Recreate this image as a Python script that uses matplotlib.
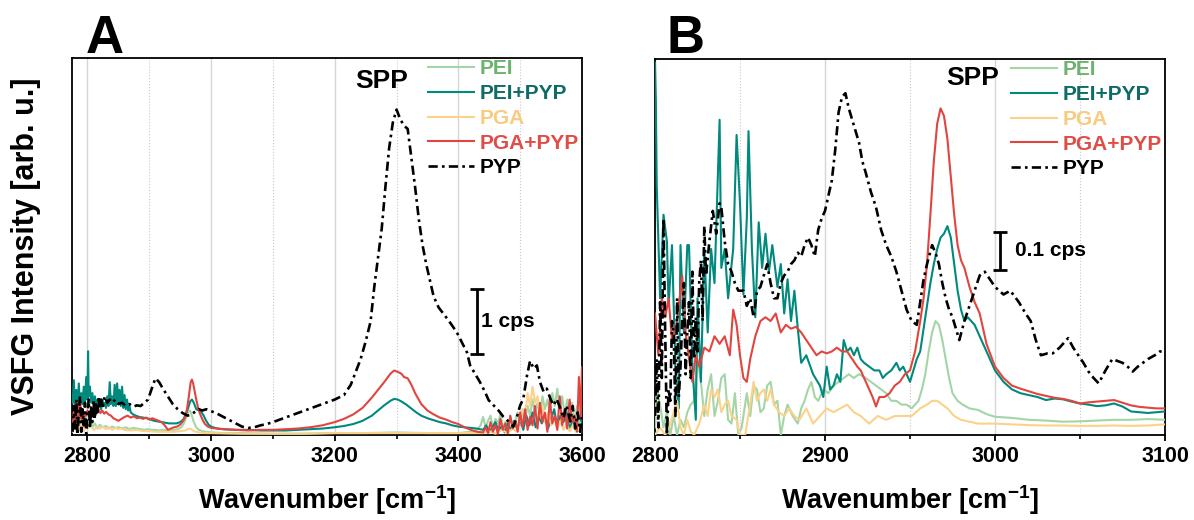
import matplotlib
matplotlib.use('Agg')
import matplotlib.pyplot as plt
from matplotlib.ticker import MultipleLocator

plt.rcParams['font.family'] = ['Liberation Sans', 'DejaVu Sans']
plt.rcParams['font.weight'] = 'bold'
plt.rcParams['mathtext.fontset'] = 'custom'
plt.rcParams['mathtext.rm'] = 'Liberation Sans:bold'
plt.rcParams['mathtext.it'] = 'Liberation Sans:bold'
plt.rcParams['mathtext.bf'] = 'Liberation Sans:bold'

# ---------------- data : panel A (cps) ----------------
A_PEI_x = [2776,2779,2782,2785,2788,2791,2794,2797,2800,2804,
           2808,2812,2816,2820,2825,2830,2835,2840,2845,2850,
           2856,2862,2868,2874,2880,2886,2892,2898,2904,2910,
           2916,2922,2928,2934,2940,2946,2952,2956,2960,2963,
           2966,2969,2972,2976,2980,2986,2992,3000,3020,3050,
           3100,3150,3200,3250,3300,3350,3400,3420,3430,3436,
           3440,3444,3448,3452,3456,3460,3464,3468,3472,3476,
           3480,3484,3488,3492,3496,3500,3504,3508,3512,3516,
           3520,3524,3528,3532,3536,3540,3544,3548,3552,3556,
           3560,3564,3568,3572,3576,3580,3584,3588,3592,3596,
           3600]
A_PEI_y = [0.05,0.25,0.10,0.30,0.08,0.20,0.12,0.28,0.15,0.22,
           0.12,0.18,0.10,0.16,0.12,0.14,0.10,0.13,0.11,0.12,
           0.10,0.12,0.09,0.11,0.10,0.09,0.08,0.09,0.08,0.08,
           0.07,0.08,0.07,0.07,0.08,0.09,0.12,0.18,0.28,0.36,
           0.38,0.30,0.20,0.12,0.08,0.06,0.05,0.04,0.03,0.03,
           0.02,0.02,0.03,0.03,0.04,0.03,0.03,0.05,0.08,0.15,
           0.28,0.12,0.22,0.30,0.10,0.25,0.18,0.32,0.12,0.20,
           0.15,0.28,0.10,0.22,0.35,0.15,0.40,0.25,0.45,0.30,
           0.55,0.35,0.50,0.28,0.60,0.40,0.55,0.35,0.65,0.45,
           0.72,0.40,0.60,0.30,0.55,0.25,0.50,0.20,0.45,0.15,
           0.35]

A_PEIPYP_x = [2776,2778,2780,2782,2784,2786,2788,2790,2792,2794,
              2796,2798,2800,2801,2802,2804,2806,2808,2810,2812,
              2814,2816,2818,2820,2822,2824,2826,2828,2830,2832,
              2834,2836,2838,2840,2842,2844,2846,2848,2850,2852,
              2854,2856,2858,2860,2862,2864,2866,2868,2870,2874,
              2878,2884,2890,2896,2902,2908,2914,2920,2926,2932,
              2938,2944,2950,2955,2959,2963,2966,2969,2972,2976,
              2980,2984,2988,2992,2996,3000,3010,3020,3040,3060,
              3080,3100,3120,3140,3160,3180,3200,3215,3230,3245,
              3260,3270,3280,3290,3296,3302,3308,3316,3324,3332,
              3340,3350,3360,3370,3380,3390,3400,3410,3420,3430,
              3440,3445,3450,3455,3460,3465,3470,3475,3480,3485,
              3490,3495,3500,3505,3510,3515,3520,3525,3530,3535,
              3540,3545,3550,3555,3560,3565,3570,3575,3580,3585,
              3590,3595,3600]
A_PEIPYP_y = [0.50,0.85,0.40,0.70,0.45,0.80,0.42,0.65,0.48,0.75,
              0.52,0.90,0.55,1.30,0.60,0.75,0.50,0.65,0.45,0.60,
              0.42,0.55,0.45,0.52,0.40,0.55,0.45,0.50,0.42,0.60,
              0.45,0.82,0.48,0.60,0.45,0.78,0.45,0.80,0.50,0.70,
              0.45,0.75,0.42,0.62,0.40,0.55,0.38,0.45,0.35,0.32,
              0.30,0.28,0.27,0.26,0.24,0.22,0.21,0.20,0.19,0.18,
              0.18,0.18,0.20,0.24,0.32,0.42,0.52,0.55,0.50,0.40,
              0.38,0.36,0.30,0.22,0.16,0.13,0.10,0.09,0.08,0.08,
              0.07,0.07,0.07,0.08,0.09,0.10,0.12,0.14,0.17,0.22,
              0.30,0.38,0.46,0.53,0.56,0.55,0.52,0.47,0.41,0.35,
              0.30,0.26,0.23,0.20,0.18,0.15,0.13,0.12,0.11,0.10,
              0.08,0.15,0.05,0.12,0.20,0.06,0.14,0.04,0.18,0.08,
              0.22,0.10,0.25,0.08,0.30,0.15,0.35,0.12,0.28,0.18,
              0.32,0.10,0.25,0.40,0.12,0.30,0.20,0.35,0.08,0.25,
              0.15,0.30,0.20]

A_PGA_x = [2776,2779,2782,2785,2788,2791,2794,2797,2800,2805,
           2810,2815,2820,2825,2830,2835,2840,2845,2850,2855,
           2860,2870,2880,2890,2900,2910,2920,2930,2940,2950,
           2958,2964,2968,2972,2980,2990,3000,3050,3100,3150,
           3200,3250,3300,3350,3400,3440,3450,3460,3470,3480,
           3488,3494,3500,3504,3508,3512,3516,3520,3524,3528,
           3532,3536,3540,3545,3550,3555,3560,3565,3570,3575,
           3580,3585,3590,3595,3600]
A_PGA_y = [0.08,0.25,0.05,0.18,0.10,0.22,0.06,0.15,0.10,0.14,
           0.08,0.12,0.10,0.13,0.09,0.12,0.08,0.11,0.09,0.10,
           0.08,0.07,0.08,0.06,0.06,0.05,0.05,0.05,0.05,0.06,
           0.07,0.10,0.09,0.06,0.04,0.03,0.03,0.02,0.02,0.02,
           0.03,0.03,0.03,0.03,0.03,0.03,0.06,0.02,0.08,0.03,
           0.10,0.05,0.25,0.40,0.30,0.65,0.45,0.75,0.50,0.60,
           0.30,0.45,0.20,0.35,0.15,0.28,0.10,0.22,0.08,0.18,
           0.06,0.15,0.05,0.12,0.06]

A_PGAPYP_x = [2776,2778,2780,2782,2784,2786,2788,2790,2792,2794,
              2796,2798,2800,2803,2806,2809,2812,2815,2818,2821,
              2824,2827,2830,2834,2838,2842,2846,2850,2855,2860,
              2865,2870,2875,2880,2885,2890,2895,2900,2905,2910,
              2915,2920,2925,2930,2935,2940,2945,2950,2955,2958,
              2961,2964,2967,2969,2971,2973,2976,2979,2982,2986,
              2990,2995,3000,3010,3020,3040,3060,3080,3100,3120,
              3140,3160,3180,3200,3215,3230,3245,3260,3270,3280,
              3290,3296,3302,3308,3312,3318,3324,3330,3340,3350,
              3360,3370,3380,3390,3400,3410,3420,3430,3440,3444,
              3448,3452,3456,3460,3464,3468,3472,3476,3480,3484,
              3488,3492,3496,3500,3504,3508,3512,3516,3520,3524,
              3528,3532,3536,3540,3544,3548,3552,3556,3560,3564,
              3568,3572,3576,3580,3584,3588,3592,3595,3598,3600]
A_PGAPYP_y = [0.10,0.35,0.20,0.50,0.15,0.45,0.55,0.25,0.40,0.20,
              0.35,0.30,0.38,0.32,0.40,0.35,0.30,0.36,0.40,0.34,
              0.38,0.33,0.36,0.32,0.30,0.26,0.24,0.22,0.25,0.28,
              0.30,0.27,0.29,0.26,0.27,0.25,0.27,0.24,0.26,0.24,
              0.22,0.20,0.15,0.08,0.10,0.12,0.13,0.16,0.22,0.28,
              0.40,0.60,0.82,0.86,0.80,0.70,0.55,0.42,0.33,0.24,
              0.17,0.13,0.11,0.10,0.09,0.08,0.07,0.08,0.08,0.09,
              0.10,0.12,0.15,0.20,0.25,0.32,0.42,0.58,0.70,0.82,
              0.95,1.00,0.98,0.95,0.90,0.88,0.78,0.65,0.48,0.38,
              0.32,0.27,0.24,0.20,0.17,0.12,0.08,0.05,0.04,0.12,
              0.03,0.20,0.05,0.15,0.02,0.25,0.08,0.18,0.03,0.30,
              0.10,0.22,0.05,0.35,0.12,0.40,0.08,0.28,0.15,0.45,
              0.10,0.50,0.20,0.35,0.05,0.55,0.18,0.30,0.08,0.60,
              0.15,0.40,0.10,0.55,0.20,0.30,0.05,0.90,0.25,1.05]

A_PYP_x = [2776,2778,2780,2782,2784,2786,2788,2790,2792,2794,
           2796,2798,2800,2802,2804,2806,2808,2810,2812,2814,
           2816,2818,2820,2822,2825,2828,2832,2836,2840,2845,
           2850,2856,2862,2868,2874,2880,2886,2892,2898,2904,
           2910,2916,2922,2930,2938,2946,2954,2962,2968,2974,
           2980,2986,2992,3000,3008,3016,3024,3032,3040,3050,
           3060,3070,3080,3090,3100,3120,3140,3160,3180,3200,
           3215,3226,3234,3242,3250,3258,3264,3270,3276,3282,
           3288,3294,3300,3306,3312,3318,3324,3330,3336,3342,
           3348,3354,3360,3368,3376,3384,3392,3400,3405,3414,
           3419,3427,3435,3443,3449,3457,3465,3473,3481,3489,
           3494,3500,3505,3511,3516,3522,3527,3532,3538,3543,
           3549,3554,3559,3565,3570,3575,3581,3585,3589,3593,
           3597,3600]
A_PYP_y = [0.05,0.45,0.10,0.55,0.00,0.35,0.60,0.05,0.40,0.15,
           0.50,0.02,0.30,0.55,0.10,0.45,0.20,0.55,0.25,0.50,
           0.35,0.60,0.40,0.55,0.45,0.60,0.50,0.55,0.50,0.55,
           0.48,0.50,0.45,0.48,0.44,0.46,0.45,0.50,0.55,0.72,
           0.88,0.82,0.72,0.60,0.48,0.40,0.34,0.30,0.32,0.36,
           0.40,0.38,0.40,0.37,0.34,0.30,0.26,0.22,0.18,0.13,
           0.11,0.12,0.15,0.17,0.20,0.27,0.34,0.41,0.48,0.55,
           0.62,0.78,0.98,1.18,1.45,1.76,2.30,2.75,3.20,3.85,
           4.45,4.85,5.05,4.90,4.80,4.75,4.30,3.85,3.35,2.95,
           2.65,2.40,2.15,1.98,1.88,1.78,1.67,1.55,1.45,1.28,
           1.08,0.95,0.82,0.67,0.54,0.46,0.38,0.28,0.21,0.13,
           0.26,0.46,0.56,0.92,1.15,1.03,1.08,0.82,0.67,0.72,
           0.56,0.46,0.56,0.41,0.26,0.46,0.21,0.45,0.10,0.35,
           0.05,0.30]

# ---------------- data : panel B (cps) ----------------
B_PEI_x = [2800,2801,2803,2805,2807,2809,2811,2813,2815,2817,
           2819,2821,2823,2825,2827,2829,2831,2833,2835,2837,
           2839,2841,2843,2845,2847,2849,2851,2854,2856,2858,
           2860,2862,2864,2866,2868,2870,2872,2874,2876,2878,
           2881,2884,2886,2888,2890,2892,2894,2896,2899,2902,
           2905,2908,2911,2914,2917,2920,2924,2927,2930,2933,
           2936,2939,2942,2945,2948,2951,2953,2955,2957,2959,
           2961,2963,2965,2967,2969,2971,2973,2975,2978,2981,
           2985,2990,2995,3000,3010,3020,3030,3040,3050,3060,
           3070,3080,3090,3100]
B_PEI_y = [0.02,0.12,0.08,0.02,0.06,0.00,0.05,0.00,0.04,0.02,
           0.06,0.08,0.09,0.20,0.14,0.05,0.12,0.16,0.05,0.09,
           0.15,0.16,0.04,0.03,0.11,0.00,0.02,0.11,0.05,0.13,
           0.12,0.06,0.07,0.13,0.14,0.08,0.09,0.00,0.05,0.08,
           0.05,0.03,0.07,0.09,0.12,0.14,0.10,0.09,0.12,0.11,
           0.13,0.14,0.15,0.16,0.15,0.16,0.15,0.14,0.13,0.12,
           0.11,0.09,0.09,0.08,0.08,0.07,0.08,0.09,0.12,0.16,
           0.22,0.27,0.30,0.29,0.25,0.20,0.15,0.11,0.09,0.08,
           0.07,0.066,0.055,0.048,0.045,0.040,0.038,0.035,0.036,0.038,
           0.040,0.040,0.042,0.040]

B_PEIPYP_x = [2800,2800.5,2801,2803,2805,2807,2808,2810,2812,2814,
              2815,2817,2819,2820,2822,2824,2825,2827,2829,2831,
              2833,2835,2838,2839,2841,2843,2846,2848,2850,2852,
              2854,2855,2857,2859,2861,2863,2865,2867,2869,2872,
              2874,2876,2878,2880,2882,2884,2886,2889,2893,2897,
              2899,2901,2903,2905,2907,2909,2911,2913,2915,2917,
              2919,2921,2923,2926,2929,2932,2934,2936,2939,2942,
              2944,2946,2948,2950,2952,2954,2956,2958,2960,2962,
              2964,2966,2968,2970,2972,2974,2976,2978,2980,2982,
              2984,2986,2988,2990,2993,2996,3000,3005,3010,3015,
              3020,3025,3030,3035,3040,3045,3050,3055,3060,3065,
              3070,3075,3080,3085,3090,3095,3100]
B_PEIPYP_y = [0.98,0.88,0.66,0.36,0.58,0.51,0.34,0.50,0.18,0.07,
              0.50,0.27,0.50,0.50,0.18,0.04,0.36,0.14,0.49,0.27,
              0.49,0.40,0.83,0.44,0.49,0.36,0.49,0.79,0.61,0.37,
              0.57,0.80,0.49,0.31,0.56,0.44,0.53,0.43,0.50,0.39,
              0.45,0.32,0.41,0.30,0.38,0.28,0.19,0.21,0.16,0.13,
              0.10,0.18,0.12,0.13,0.16,0.14,0.25,0.22,0.23,0.21,
              0.23,0.20,0.19,0.18,0.17,0.17,0.15,0.16,0.17,0.19,
              0.17,0.18,0.16,0.14,0.17,0.20,0.22,0.28,0.34,0.40,
              0.45,0.49,0.52,0.53,0.55,0.52,0.45,0.38,0.33,0.30,
              0.31,0.30,0.29,0.27,0.24,0.21,0.17,0.14,0.12,0.11,
              0.105,0.100,0.092,0.096,0.094,0.088,0.083,0.080,0.076,0.078,
              0.083,0.075,0.062,0.060,0.058,0.060,0.062]

B_PGA_x = [2800,2803,2806,2809,2811,2813,2815,2817,2819,2821,
           2823,2826,2829,2831,2833,2835,2837,2839,2841,2843,
           2845,2848,2850,2853,2856,2858,2860,2862,2864,2866,
           2868,2870,2873,2876,2879,2882,2885,2889,2893,2897,
           2901,2905,2909,2913,2917,2921,2926,2931,2936,2941,
           2946,2951,2956,2960,2963,2966,2969,2972,2976,2980,
           2985,2990,3000,3010,3020,3030,3040,3050,3060,3070,
           3080,3090,3100]
B_PGA_y = [0.00,0.02,0.00,0.03,0.06,0.09,0.02,0.00,0.04,0.01,
           0.00,0.03,0.08,0.05,0.12,0.10,0.12,0.06,0.08,0.09,
           0.05,0.04,0.00,0.00,0.08,0.14,0.09,0.11,0.12,0.09,
           0.12,0.08,0.06,0.05,0.07,0.05,0.04,0.07,0.03,0.05,
           0.07,0.06,0.07,0.08,0.06,0.05,0.03,0.05,0.04,0.05,
           0.05,0.05,0.07,0.08,0.09,0.09,0.08,0.07,0.05,0.04,
           0.035,0.03,0.03,0.028,0.026,0.025,0.025,0.024,0.024,0.025,
           0.024,0.025,0.028]

B_PGAPYP_x = [2800,2802,2804,2806,2808,2810,2813,2816,2818,2820,
              2822,2824,2826,2829,2832,2835,2838,2841,2844,2846,
              2848,2850,2852,2854,2856,2859,2862,2865,2868,2871,
              2874,2877,2880,2883,2886,2889,2892,2895,2898,2901,
              2904,2907,2910,2913,2916,2919,2921,2923,2926,2928,
              2930,2932,2935,2938,2941,2944,2947,2950,2953,2956,
              2958,2960,2962,2964,2966,2968,2970,2972,2974,2976,
              2978,2980,2982,2985,2988,2991,2995,3000,3005,3010,
              3015,3020,3025,3030,3035,3040,3045,3050,3055,3060,
              3065,3070,3075,3080,3085,3090,3095,3100]
B_PGAPYP_y = [0.32,0.21,0.36,0.31,0.36,0.25,0.30,0.42,0.27,0.20,
              0.14,0.21,0.18,0.23,0.22,0.26,0.24,0.26,0.21,0.33,
              0.29,0.21,0.15,0.14,0.20,0.26,0.30,0.31,0.30,0.32,
              0.27,0.29,0.28,0.285,0.27,0.25,0.23,0.21,0.22,0.215,
              0.22,0.23,0.22,0.22,0.20,0.18,0.17,0.15,0.12,0.10,
              0.075,0.10,0.10,0.11,0.13,0.14,0.16,0.17,0.22,0.30,
              0.36,0.45,0.58,0.72,0.82,0.86,0.84,0.78,0.68,0.58,
              0.50,0.46,0.44,0.39,0.35,0.32,0.24,0.18,0.15,0.13,
              0.122,0.115,0.108,0.103,0.098,0.095,0.090,0.083,0.086,0.088,
              0.090,0.092,0.085,0.078,0.074,0.072,0.070,0.070]

B_PYP_x = [2800,2801,2802,2803,2804,2805,2806,2807,2808,2809,
           2810,2811,2812,2813,2814,2815,2816,2817,2818,2819,
           2820,2821,2822,2823,2824,2825,2826,2827,2828,2829,
           2830,2832,2834,2836,2838,2839,2841,2843,2845,2847,
           2849,2852,2854,2856,2858,2860,2862,2864,2866,2868,
           2870,2872,2874,2876,2878,2880,2882,2884,2886,2888,
           2890,2892,2894,2896,2898,2900,2902,2904,2906,2908,
           2910,2912,2914,2916,2918,2920,2922,2924,2927,2930,
           2933,2936,2939,2942,2945,2948,2951,2954,2956,2958,
           2960,2963,2965,2967,2969,2971,2973,2975,2977,2979,
           2982,2985,2988,2991,2994,2997,3000,3005,3009,3014,
           3018,3021,3024,3027,3031,3034,3038,3043,3046,3049,
           3052,3055,3058,3061,3065,3069,3072,3075,3078,3081,
           3084,3087,3090,3094,3097,3100]
B_PYP_y = [0.05,0.20,0.02,0.35,0.15,0.57,0.27,0.00,0.12,0.09,
           0.30,0.27,0.05,0.36,0.10,0.18,0.30,0.40,0.16,0.27,
           0.35,0.15,0.43,0.20,0.31,0.22,0.40,0.46,0.30,0.55,
           0.42,0.51,0.59,0.53,0.61,0.60,0.51,0.45,0.43,0.40,
           0.38,0.38,0.34,0.36,0.31,0.38,0.39,0.42,0.45,0.40,
           0.36,0.36,0.40,0.42,0.43,0.45,0.46,0.48,0.47,0.50,
           0.52,0.50,0.47,0.54,0.57,0.59,0.63,0.67,0.75,0.85,
           0.89,0.90,0.86,0.83,0.80,0.77,0.72,0.69,0.64,0.60,
           0.54,0.50,0.47,0.43,0.38,0.33,0.30,0.29,0.35,0.41,
           0.45,0.50,0.48,0.45,0.40,0.36,0.33,0.31,0.28,0.25,
           0.30,0.34,0.38,0.42,0.43,0.41,0.39,0.37,0.38,0.35,
           0.32,0.30,0.25,0.21,0.215,0.215,0.23,0.255,0.23,0.21,
           0.19,0.167,0.15,0.136,0.17,0.20,0.195,0.19,0.18,0.167,
           0.18,0.19,0.20,0.21,0.22,0.22]

labels = ['PEI', 'PEI+PYP', 'PGA', 'PGA+PYP', 'PYP']
line_colors = ['#a3d5a6', '#00897d', '#fcd28a', '#e2453f', '#000000']
text_colors = ['#6cb36e', '#0f6b66', '#f8cb80', '#e04d47', '#000000']

A_series = [(A_PEI_x, A_PEI_y), (A_PEIPYP_x, A_PEIPYP_y), (A_PGA_x, A_PGA_y),
            (A_PGAPYP_x, A_PGAPYP_y), (A_PYP_x, A_PYP_y)]
B_series = [(B_PEI_x, B_PEI_y), (B_PEIPYP_x, B_PEIPYP_y), (B_PGA_x, B_PGA_y),
            (B_PGAPYP_x, B_PGAPYP_y), (B_PYP_x, B_PYP_y)]

W, H = 1194, 520
fig = plt.figure(figsize=(W / 100, H / 100), dpi=100)
axA = fig.add_axes([72 / W, (H - 435) / H, 510 / W, 377 / H])
axB = fig.add_axes([655 / W, (H - 435) / H, 510 / W, 376 / H])


def style_axis(ax, xlim, ylim, major, minor):
    ax.set_xlim(*xlim)
    ax.set_ylim(*ylim)
    ax.xaxis.set_major_locator(MultipleLocator(major))
    ax.xaxis.set_minor_locator(MultipleLocator(minor))
    ax.set_yticks([])
    ax.grid(True, which='major', axis='x', color='#d6d6d6', lw=1.0, ls='-')
    ax.grid(True, which='minor', axis='x', color='#c8c8c8', lw=0.8, ls=':')
    ax.set_axisbelow(True)
    ax.tick_params(axis='x', which='major', direction='out', length=4, width=1.3,
                   labelsize=15.5, pad=4)
    ax.tick_params(axis='x', which='minor', direction='out', length=3, width=1.2)
    for s in ax.spines.values():
        s.set_linewidth(1.3)
    ax.set_xlabel('Wavenumber [cm$^{-1}$]', fontsize=19.5, fontweight='bold')
    ax.xaxis.set_label_coords(0.5, -0.128)


def draw(ax, series):
    handles = []
    for (xs, ys), c, lab in zip(series, line_colors, labels):
        if lab == 'PYP':
            h, = ax.plot(xs, ys, color=c, lw=1.9, ls=(0, (3.5, 1.6, 1, 1.6)), zorder=5)
        else:
            h, = ax.plot(xs, ys, color=c, lw=1.5, zorder=3)
        handles.append(h)
    leg = ax.legend(handles, labels, loc='upper left', bbox_to_anchor=(0.698, 0.997),
                    frameon=False, fontsize=15, handlelength=2.2, handletextpad=0.3,
                    labelspacing=0.28, borderpad=0, borderaxespad=0)
    for t, c in zip(leg.get_texts(), text_colors):
        t.set_color(c)
        t.set_fontweight('bold')


style_axis(axA, (2775, 3600), (0, 5.85), 200, 100)
draw(axA, A_series)
axA.set_ylabel('VSFG Intensity [arb. u.]', fontsize=22, fontweight='bold')
axA.yaxis.set_label_coords(-0.061, 0.5)
axA.text(3276, 5.49, 'SPP', fontsize=19, fontweight='bold', ha='center', va='center')
axA.errorbar([3430], [1.76], yerr=[0.5], fmt='none', ecolor='k', elinewidth=2,
             capsize=5, capthick=2)
axA.text(3437, 1.76, '1 cps', fontsize=15, fontweight='bold', ha='left', va='center')

style_axis(axB, (2800, 3100), (0, 0.99), 100, 50)
draw(axB, B_series)
axB.text(2987, 0.94, 'SPP', fontsize=19, fontweight='bold', ha='center', va='center')
axB.errorbar([3003], [0.485], yerr=[0.05], fmt='none', ecolor='k', elinewidth=2,
             capsize=5, capthick=2)
axB.text(3012, 0.485, '0.1 cps', fontsize=15, fontweight='bold', ha='left', va='center')

fig.text(86 / W, 1 - 53 / H, 'A', fontsize=38, fontweight='bold', ha='left', va='baseline')
fig.text(667 / W, 1 - 53 / H, 'B', fontsize=38, fontweight='bold', ha='left', va='baseline')

fig.savefig('out.png', dpi=100)
